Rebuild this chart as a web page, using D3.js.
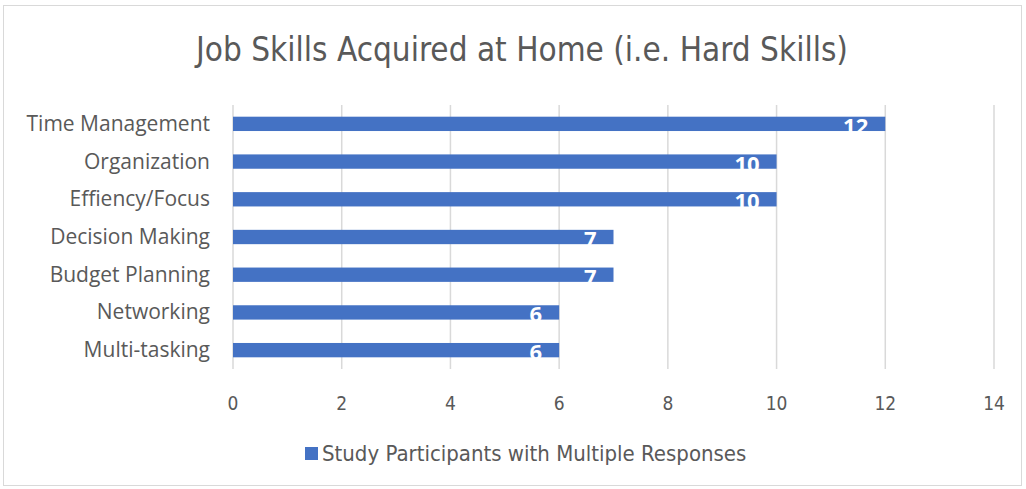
<!DOCTYPE html>
<meta charset="utf-8">
<style>
body { margin:0; background:#fff; }
svg text { fill:#595959; }
</style>
<body>
<div id="chart"></div>
<script src="https://cdn.jsdelivr.net/npm/d3@7"></script>
<script>
// data
var categories = ["Time Management", "Organization", "Effiency/Focus", "Decision Making", "Budget Planning", "Networking", "Multi-tasking"];
var values = [12, 10, 10, 7, 7, 6, 6];
var xTicks = [0, 2, 4, 6, 8, 10, 12, 14];
var seriesName = "Study Participants with Multiple Responses";
var title = "Job Skills Acquired at Home (i.e. Hard Skills)";

var width = 1026, height = 489;
var plotLeft = 233, plotRight = 994, plotTop = 105, plotBottom = 369;
var blue = "#4472C4";
var narrow = "'DejaVu Sans Condensed', sans-serif";

var svg = d3.select("#chart").append("svg").attr("width", width).attr("height", height);

// outer frame
svg.append("rect").attr("x", 3.5).attr("y", 5.5).attr("width", 1018).attr("height", 480)
  .attr("fill", "#fff").attr("stroke", "#d9d9d9");

svg.append("text")
  .attr("x", 522).attr("y", 61)
  .attr("text-anchor", "middle")
  .attr("font-family", narrow)
  .attr("font-size", 33)
  .text(title);

var x = d3.scaleLinear().domain([0, 14]).range([plotLeft, plotRight]);
var y = d3.scaleBand().domain(categories).range([plotTop, plotBottom]).paddingInner(0.62).paddingOuter(0.31);

// gridlines
svg.append("g").selectAll("line").data(xTicks).enter().append("line")
  .attr("x1", function(d) { return x(d); }).attr("x2", function(d) { return x(d); })
  .attr("y1", plotTop).attr("y2", plotBottom)
  .attr("stroke", "#d9d9d9").attr("stroke-width", 1.5);

// x tick labels
svg.append("g").selectAll("text").data(xTicks).enter().append("text")
  .attr("x", function(d) { return x(d); }).attr("y", 410)
  .attr("text-anchor", "middle")
  .attr("font-family", narrow)
  .attr("font-size", 19)
  .text(function(d) { return d; });

// category labels
svg.append("g").selectAll("text").data(categories).enter().append("text")
  .attr("x", 210).attr("y", function(d) { return y(d) + y.bandwidth() / 2 + 7; })
  .attr("text-anchor", "end")
  .attr("font-family", "'Open Sans', sans-serif")
  .attr("font-size", 21)
  .text(function(d) { return d; });

var rows = categories.map(function(c, i) { return {name: c, value: values[i]}; });

svg.append("g").selectAll("rect").data(rows).enter().append("rect")
  .attr("x", x(0))
  .attr("y", function(d) { return y(d.name); })
  .attr("width", function(d) { return x(d.value) - x(0); })
  .attr("height", y.bandwidth())
  .attr("fill", blue);

// value labels (white, spill below the bar like the original)
svg.append("g").selectAll("text").data(rows).enter().append("text")
  .attr("x", function(d) { return x(d.value) - 17; })
  .attr("y", function(d) { return y(d.name) + y.bandwidth() / 2 + 10; })
  .attr("text-anchor", "end")
  .attr("font-family", "'Open Sans', sans-serif")
  .attr("font-weight", "bold")
  .attr("font-size", 22)
  .style("fill", "#fff")
  .text(function(d) { return d.value; });

// legend
var lg = svg.append("g");
lg.append("rect").attr("x", 305).attr("y", 447).attr("width", 13).attr("height", 13).attr("fill", blue);
lg.append("text").attr("x", 322).attr("y", 461)
  .attr("font-family", narrow)
  .attr("font-size", 22)
  .text(seriesName);
</script>
</body>
